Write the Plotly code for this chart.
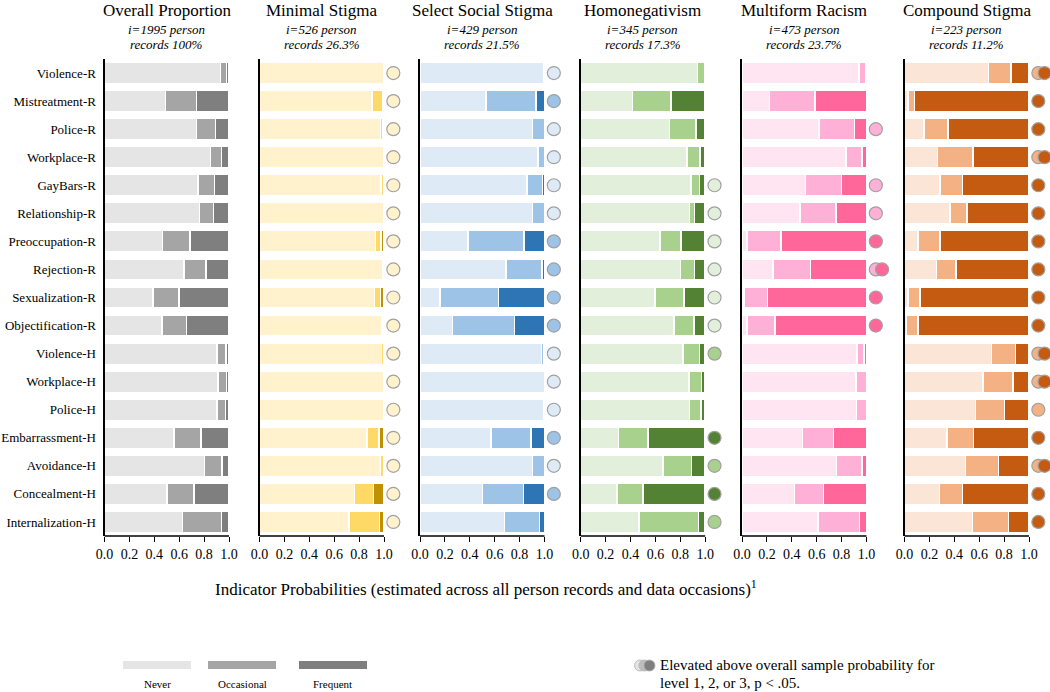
import plotly.graph_objects as go

# ---------------- data ----------------
INDICATORS = ["Violence-R", "Mistreatment-R", "Police-R", "Workplace-R", "GayBars-R",
              "Relationship-R", "Preoccupation-R", "Rejection-R", "Sexualization-R",
              "Objectification-R", "Violence-H", "Workplace-H", "Police-H",
              "Embarrassment-H", "Avoidance-H", "Concealment-H", "Internalization-H"]

PANEL_TITLES = ["Overall Proportion", "Minimal Stigma", "Select Social Stigma",
                "Homonegativism", "Multiform Racism", "Compound Stigma"]
SUB_LINE1 = ["i=1995 person", "i=526 person", "i=429 person",
             "i=345 person", "i=473 person", "i=223 person"]
SUB_LINE2 = ["records 100%", "records 26.3%", "records 21.5%",
             "records 17.3%", "records 23.7%", "records 11.2%"]
LEVEL_NAMES = ["Never", "Occasional", "Frequent"]
TICK_VALUES = [0, 0.2, 0.4, 0.6, 0.8, 1.0]
TICK_LABELS = ["0.0", "0.2", "0.4", "0.6", "0.8", "1.0"]

OVERALL_NEVER = [.93, .49, .74, .85, .75, .765, .466, .64, .39, .46, .905, .91, .905, .56, .805, .50, .625]
OVERALL_OCC   = [.05, .25, .15, .09, .135, .11, .22, .175, .21, .20, .07, .07, .065, .215, .14, .22, .315]
OVERALL_FREQ  = [.02, .26, .11, .06, .115, .125, .314, .185, .40, .34, .025, .02, .03, .225, .055, .28, .06]

MINIMAL_NEVER = [.995, .905, .97, .995, .975, .995, .93, .99, .925, .985, .98, .995, .995, .865, .97, .765, .72]
MINIMAL_OCC   = [.005, .085, .02, .005, .02, .005, .045, .01, .045, .01, .015, .005, .005, .095, .025, .15, .245]
MINIMAL_FREQ  = [0, .01, .01, 0, .005, 0, .025, 0, .03, .005, .005, 0, 0, .04, .005, .085, .035]

SELECT_NEVER = [.99, .53, .905, .946, .86, .905, .385, .69, .16, .26, .975, 1.0, .995, .57, .905, .50, .68]
SELECT_OCC   = [.01, .40, .095, .054, .125, .095, .45, .29, .47, .50, .02, 0, .005, .32, .095, .33, .28]
SELECT_FREQ  = [0, .07, 0, 0, .015, 0, .165, .02, .37, .24, .005, 0, 0, .11, 0, .17, .04]

HOMONEG_NEVER = [.94, .415, .715, .855, .885, .875, .635, .80, .595, .75, .82, .87, .875, .305, .66, .29, .47]
HOMONEG_OCC   = [.06, .31, .21, .105, .07, .04, .17, .115, .235, .16, .135, .10, .09, .235, .23, .21, .475]
HOMONEG_FREQ  = [0, .275, .075, .04, .045, .085, .195, .085, .17, .09, .045, .03, .035, .46, .11, .50, .055]

MULTI_NEVER = [.94, .22, .62, .835, .51, .465, .04, .25, .015, .04, .925, .916, .92, .485, .76, .42, .61]
MULTI_OCC   = [.055, .365, .285, .13, .29, .29, .275, .30, .19, .225, .055, .084, .08, .25, .205, .235, .335]
MULTI_FREQ  = [.005, .415, .095, .035, .20, .245, .685, .45, .795, .735, .02, 0, 0, .265, .035, .345, .055]

COMPOUND_NEVER = [.675, .03, .155, .265, .285, .365, .11, .255, .03, .015, .70, .63, .57, .34, .49, .28, .545]
COMPOUND_OCC   = [.18, .05, .195, .285, .18, .135, .175, .16, .095, .095, .19, .24, .235, .215, .265, .185, .29]
COMPOUND_FREQ  = [.145, .92, .65, .45, .535, .50, .715, .585, .875, .89, .11, .13, .195, .445, .245, .535, .165]

# significance flags: which levels (1, 2, 3) are elevated above overall
OVERALL_SIG  = [""] * 17
MINIMAL_SIG  = ["1", "1", "1", "1", "1", "1", "1", "1", "1", "1", "1", "1", "1", "1", "1", "1", "1"]
SELECT_SIG   = ["1", "2", "1", "1", "1", "1", "2", "2", "2", "2", "1", "1", "1", "2", "1", "2", ""]
HOMONEG_SIG  = ["", "", "", "", "1", "1", "1", "1", "1", "1", "2", "", "", "3", "2", "3", "2"]
MULTI_SIG    = ["", "", "2", "", "2", "2", "3", "23", "3", "3", "", "", "", "", "", "", ""]
COMPOUND_SIG = ["23", "3", "3", "23", "3", "3", "3", "3", "3", "3", "23", "23", "2", "3", "23", "3", "3"]

PANEL_DATA = [
    (OVERALL_NEVER, OVERALL_OCC, OVERALL_FREQ, OVERALL_SIG),
    (MINIMAL_NEVER, MINIMAL_OCC, MINIMAL_FREQ, MINIMAL_SIG),
    (SELECT_NEVER, SELECT_OCC, SELECT_FREQ, SELECT_SIG),
    (HOMONEG_NEVER, HOMONEG_OCC, HOMONEG_FREQ, HOMONEG_SIG),
    (MULTI_NEVER, MULTI_OCC, MULTI_FREQ, MULTI_SIG),
    (COMPOUND_NEVER, COMPOUND_OCC, COMPOUND_FREQ, COMPOUND_SIG),
]

PANEL_COLORS = [
    ["#e6e5e6", "#a5a5a5", "#7f7f7f"],
    ["#fff2cc", "#ffd966", "#bf9000"],
    ["#deebf7", "#9dc3e6", "#2e75b6"],
    ["#e2efda", "#a9d18e", "#548235"],
    ["#ffe5f1", "#ffb0d6", "#ff6699"],
    ["#fbe5d6", "#f4b183", "#c55a11"],
]

# ---------------- layout geometry (pixels) ----------------
W, H = 1050, 692
PANEL_X0 = [104.5, 259.5, 420.0, 580.7, 742.0, 904.5]
PANEL_W = 124.5          # pixel width of the 0..1 span
X_MAX = 1.16             # axis extends past 1.0 to hold the significance dots
PLOT_TOP, PLOT_BOTTOM = 59, 536
FONT = "Liberation Serif"
DOT_X = 1.075
DOT_STEP = 0.05


def px(x):
    return x / W


def py(y):
    return 1 - y / H


fig = go.Figure()
layout_axes = {}
annotations = []
shapes = []

for k, (never, occ, freq, sig) in enumerate(PANEL_DATA):
    n = k + 1
    xa = "x" if n == 1 else f"x{n}"
    ya = "y" if n == 1 else f"y{n}"
    cols = PANEL_COLORS[k]
    for vals, col, name in zip((never, occ, freq), cols, LEVEL_NAMES):
        fig.add_trace(go.Bar(
            x=vals, y=INDICATORS, orientation="h", xaxis=xa, yaxis=ya,
            marker=dict(color=col, line=dict(color="white", width=1.5)),
            width=0.76, name=name, showlegend=False, hoverinfo="x+y+name"))
    # significance dots, one trace per level so higher levels sit on top
    for lev in ("1", "2", "3"):
        xs, ys = [], []
        for ind, s in zip(INDICATORS, sig):
            if lev in s:
                xs.append(DOT_X + s.index(lev) * DOT_STEP)
                ys.append(ind)
        if xs:
            fig.add_trace(go.Scatter(
                x=xs, y=ys, mode="markers", xaxis=xa, yaxis=ya, cliponaxis=False,
                marker=dict(size=13, color=cols[int(lev) - 1],
                            line=dict(color="#a0a0a0", width=1.2)),
                showlegend=False, hoverinfo="skip"))

    x0 = PANEL_X0[k]
    layout_axes["xaxis" if n == 1 else f"xaxis{n}"] = dict(
        domain=[px(x0), px(x0 + PANEL_W * X_MAX)], range=[0, X_MAX], anchor=ya,
        tickvals=TICK_VALUES, ticktext=TICK_LABELS, automargin=False,
        showline=False, ticks="outside", ticklen=5, tickcolor="black", tickwidth=1,
        showgrid=False, zeroline=False, fixedrange=True,
        tickfont=dict(family=FONT, size=14, color="black"))
    layout_axes["yaxis" if n == 1 else f"yaxis{n}"] = dict(
        domain=[py(PLOT_BOTTOM), py(PLOT_TOP)], anchor=xa, automargin=False,
        type="category", categoryorder="array", categoryarray=INDICATORS,
        range=[16.5, -0.5], showline=True, linecolor="black", linewidth=2,
        showgrid=False, zeroline=False, ticks="", fixedrange=True,
        showticklabels=(n == 1), ticklabelstandoff=4,
        tickfont=dict(family=FONT, size=13, color="black"))
    # bottom axis line only across 0..1
    shapes.append(dict(type="line", xref=xa, yref="paper", x0=0, x1=1,
                       y0=py(PLOT_BOTTOM), y1=py(PLOT_BOTTOM),
                       line=dict(color="black", width=1.5)))

    cx = px(x0 + PANEL_W / 2)
    annotations.append(dict(x=cx, y=1, xref="paper", yref="paper", text=PANEL_TITLES[k],
                            showarrow=False, xanchor="center", yanchor="top", borderpad=0,
                            font=dict(family=FONT, size=17, color="black")))
    annotations.append(dict(x=cx, y=py(30), xref="paper", yref="paper", text=f"<i>{SUB_LINE1[k]}</i>",
                            showarrow=False, xanchor="center", yanchor="middle",
                            font=dict(family=FONT, size=13, color="black")))
    annotations.append(dict(x=cx, y=py(44), xref="paper", yref="paper", text=f"<i>{SUB_LINE2[k]}</i>",
                            showarrow=False, xanchor="center", yanchor="middle",
                            font=dict(family=FONT, size=13, color="black")))

# shared x-axis title
annotations.append(dict(
    x=px(486), y=py(588), xref="paper", yref="paper", showarrow=False,
    xanchor="center", yanchor="middle",
    text="Indicator Probabilities (estimated across all person records and data occasions)<sup>1</sup>",
    font=dict(family=FONT, size=17, color="black")))

# bottom legend (level swatches)
LEG_RECTS = [(123, 191), (208, 276), (299, 367)]
LEG_COLS = ["#e6e5e6", "#a5a5a5", "#7f7f7f"]
for (a, b), col, name in zip(LEG_RECTS, LEG_COLS, LEVEL_NAMES):
    shapes.append(dict(type="rect", xref="paper", yref="paper", x0=px(a), x1=px(b),
                       y0=py(669), y1=py(661), fillcolor=col, line=dict(width=0)))
    annotations.append(dict(x=px((a + b) / 2), y=py(684), xref="paper", yref="paper",
                            text=name, showarrow=False, xanchor="center", yanchor="middle",
                            font=dict(family=FONT, size=11, color="black")))

# significance legend icon
ICON_CX = [640, 644.5, 649.5]
ICON_COLS = ["#e3e3e3", "#bdbdbd", "#7f7f7f"]
for cxp, col in zip(ICON_CX, ICON_COLS):
    shapes.append(dict(type="circle", xref="paper", yref="paper",
                       x0=px(cxp - 5.5), x1=px(cxp + 5.5), y0=py(671), y1=py(660),
                       fillcolor=col, line=dict(color="#b0b0b0", width=0.8)))
annotations.append(dict(x=px(658), y=py(665), xref="paper", yref="paper",
                        text="Elevated above overall sample probability for",
                        showarrow=False, xanchor="left", yanchor="middle",
                        font=dict(family=FONT, size=15, color="black")))
annotations.append(dict(x=px(658), y=py(683), xref="paper", yref="paper",
                        text="level 1, 2, or 3, p < .05.",
                        showarrow=False, xanchor="left", yanchor="middle",
                        font=dict(family=FONT, size=15, color="black")))

fig.update_layout(
    template="none",
    width=W, height=H, margin=dict(l=0, r=0, t=0, b=0, pad=0, autoexpand=False),
    paper_bgcolor="white", plot_bgcolor="white",
    barmode="stack", bargap=0.24, showlegend=False,
    font=dict(family=FONT, color="black"),
    annotations=annotations, shapes=shapes, **layout_axes)

# the page body has a default 8px margin; remove it so the figure fills the window
fig.write_html("out.html", config={"displayModeBar": False},
               post_script="document.body.style.margin='0px';")
